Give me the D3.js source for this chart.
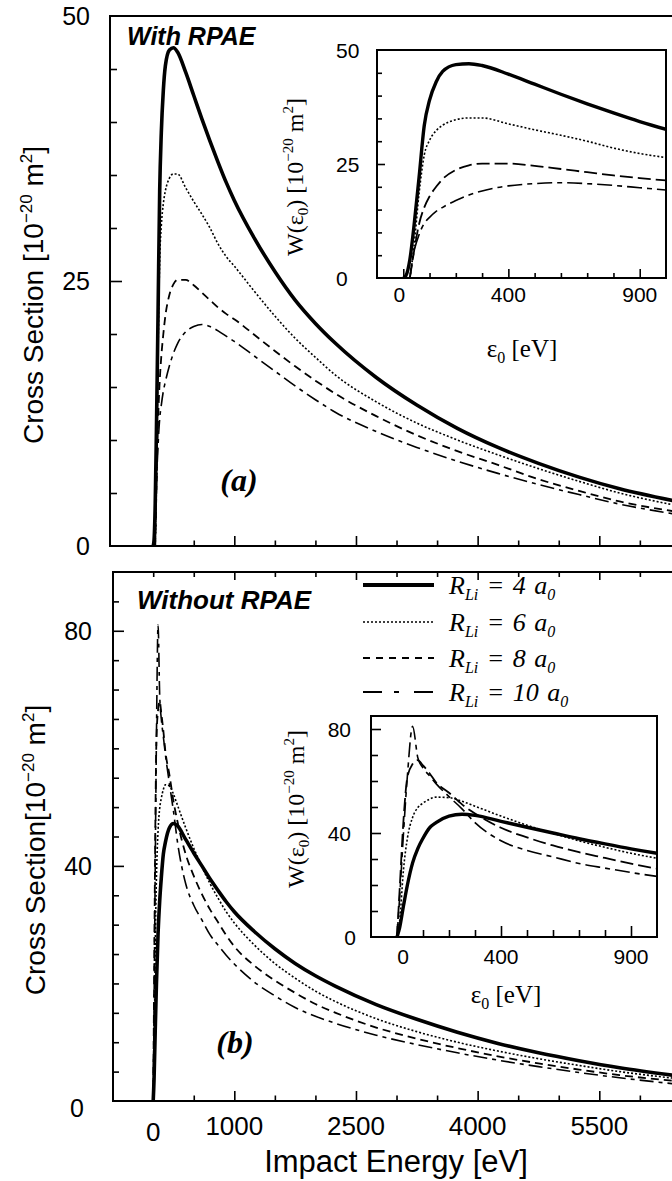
<!DOCTYPE html>
<html>
<head>
<meta charset="utf-8">
<script src="https://cdn.jsdelivr.net/npm/d3@7"></script>
<style>
  html, body { margin: 0; padding: 0; background: #fff; }
  svg { display: block; }
</style>
</head>
<body>
<svg id="chart" width="672" height="1181"></svg>
<script>
// Impact energy grid [eV] shared by every curve
const energyEV = [0, 10, 25, 40, 60, 80, 100, 125, 150, 200, 250, 300, 400, 500, 600, 700, 800, 900, 1000,
  1250, 1500, 1750, 2000, 2250, 2750, 3250, 3750, 4250, 4750, 5250, 5750, 6400];

// Cross sections [1e-20 m^2], with RPAE, for R_Li = 4, 6, 8, 10 a0
const withRPAE_R4  = [0, 0.5, 4, 11, 22, 33.5, 39, 43, 45.3, 46.8, 47, 46.6, 44.7, 42.5, 40.3, 38.2, 36.2, 34.3, 32.6,
  29.0, 25.9, 23.2, 21.0, 19.1, 15.9, 13.3, 11.1, 9.3, 7.8, 6.5, 5.4, 4.3];
const withRPAE_R6  = [0, 0, 0, 6.5, 18.5, 27, 30.2, 32.3, 33.5, 34.7, 35.1, 35.1, 33.8, 32.5, 31.3, 30.0, 28.5, 27.3, 26.4,
  24.0, 21.7, 19.6, 17.8, 16.1, 13.6, 11.6, 10.0, 8.6, 7.3, 6.1, 5.0, 3.9];
const withRPAE_R8  = [0, 0, 0, 5.5, 11.8, 15.5, 17.9, 20, 21.7, 23.7, 24.7, 25.1, 25.1, 24.6, 23.9, 23.2, 22.5, 21.9, 21.4,
  19.9, 18.4, 16.95, 15.6, 14.35, 12.25, 10.45, 8.95, 7.65, 6.3, 5.2, 4.2, 3.3];
const withRPAE_R10 = [0, 0, 0, 5.5, 9.5, 12, 13.3, 14.6, 15.5, 17, 18.2, 19.1, 20.2, 20.7, 20.9, 20.7, 20.3, 19.8, 19.3,
  17.9, 16.5, 15.1, 13.8, 12.6, 10.8, 9.3, 8.0, 6.85, 5.8, 4.85, 3.95, 3.05];

// Cross sections [1e-20 m^2], without RPAE
const noRPAE_R4  = [0, 3.5, 12, 20, 28.5, 34, 38, 42, 44, 46.5, 47.2, 46.8, 44.5, 42.2, 40, 37.8, 35.8, 33.9, 32.2,
  28.8, 25.9, 23.4, 21.3, 19.5, 16.4, 13.9, 11.7, 9.8, 8.2, 6.85, 5.65, 4.4];
const noRPAE_R6  = [0, 6, 26, 38, 46, 49.8, 51.5, 53, 53.8, 53.6, 52.2, 50.3, 46.5, 43, 39.9, 37, 34.5, 32.2, 30.3,
  26.5, 23.4, 20.9, 18.7, 16.9, 14.0, 11.8, 10.0, 8.5, 7.2, 6.05, 5.0, 3.9];
const noRPAE_R8  = [0, 18, 45, 61.5, 66.5, 68, 66, 63, 59.5, 55.5, 51, 47.5, 42, 38.3, 35.2, 32.6, 30.4, 28.2, 26.3,
  23, 20.5, 18.4, 16.5, 15.0, 12.5, 10.6, 9.0, 7.6, 6.4, 5.35, 4.4, 3.45];
const noRPAE_R10 = [0, 15, 40, 62, 81, 69, 65, 62, 59, 54, 49.3, 44, 37, 33.3, 30.8, 28.3, 26.5, 24.8, 23.3,
  20.2, 17.9, 15.9, 14.4, 13.2, 11.2, 9.6, 8.2, 6.95, 5.85, 4.85, 3.95, 2.95];

// Lithium radii (a0) for the legend
const radiiLi = [4, 6, 8, 10];

// Tick labels
const mainXLabels = [0, 1000, 2500, 4000, 5500];
const topYLabels = [0, 25, 50];
const bottomYLabels = [0, 40, 80];
const insetXLabels = [0, 400, 900];
const insetTopYLabels = [0, 25, 50];
const insetBottomYLabels = [0, 40, 80];

const SANS = "'Liberation Sans', Arial, Helvetica, sans-serif";
const SERIF = "'Liberation Serif', 'Times New Roman', Times, serif";

const svg = d3.select("#chart");
svg.append("rect").attr("width", 672).attr("height", 1181).attr("fill", "#fff");

// ---------- scales ----------
const x = d3.scaleLinear().domain([0, 5500]).range([153.2, 599.3]);
const yTop = d3.scaleLinear().domain([0, 50]).range([546, 16]);
const yBot = d3.scaleLinear().domain([0, 90]).range([1101, 572]);

const xInA = d3.scaleLinear().domain([-100, 1000]).range([377, 666]);
const yInA = d3.scaleLinear().domain([0, 50]).range([278, 50]);
const xInB = d3.scaleLinear().domain([-100, 1000]).range([371, 657]);
const yInB = d3.scaleLinear().domain([0, 85]).range([937, 716]);

// line styles per radius: solid, dotted, dashed, dash-dot
const mainStyles = [
  { w: 3.6, dash: null },
  { w: 1.6, dash: "2,2" },
  { w: 1.8, dash: "8,5" },
  { w: 1.6, dash: "14,5,4,5" }
];
const insetStyles = [
  { w: 3.4, dash: null },
  { w: 1.6, dash: "2,2" },
  { w: 1.8, dash: "13,5" },
  { w: 1.6, dash: "15,5,5,5" }
];
const legendStyles = [
  { w: 4, dash: null },
  { w: 1.6, dash: "2,2" },
  { w: 2, dash: "7,6" },
  { w: 2, dash: "19,12,5,15" }
];

const defs = svg.append("defs");
function clipRect(id, x0, y0, x1, y1) {
  defs.append("clipPath").attr("id", id).append("rect")
    .attr("x", x0).attr("y", y0).attr("width", x1 - x0).attr("height", y1 - y0);
}
clipRect("clipTop", 110, 16, 672, 546);
clipRect("clipBot", 113, 572, 672, 1101);
clipRect("clipInA", 377, 50, 666, 278);
clipRect("clipInB", 371, 716, 657, 937);

function seriesPoints(values) {
  // start each curve at its last leading zero
  const first = values.findIndex(v => v > 0);
  const start = Math.max(0, first - 1);
  return energyEV.map((e, i) => [e, values[i]]).slice(start);
}

function drawCurves(g, xs, ys, seriesList, styles, clipId) {
  const line = d3.line().x(d => xs(d[0])).y(d => ys(d[1])).curve(d3.curveMonotoneX);
  const cg = g.append("g").attr("clip-path", `url(#${clipId})`);
  seriesList.forEach((vals, i) => {
    cg.append("path")
      .attr("d", line(seriesPoints(vals)))
      .attr("fill", "none")
      .attr("stroke", "#000")
      .attr("stroke-width", styles[i].w)
      .attr("stroke-dasharray", styles[i].dash)
      .attr("stroke-linejoin", "round");
  });
}

function tickGroup(g, axisMaker, scale, values, len, transform) {
  g.append("g").attr("transform", transform)
    .call(axisMaker(scale).tickValues(values).tickSize(-len).tickSizeOuter(0).tickFormat(""))
    .call(s => s.select(".domain").remove())
    .call(s => s.selectAll("line").attr("stroke", "#000").attr("stroke-width", 1.6));
}

const withSeries = [withRPAE_R4, withRPAE_R6, withRPAE_R8, withRPAE_R10];
const noSeries = [noRPAE_R4, noRPAE_R6, noRPAE_R8, noRPAE_R10];

// ---------- main panels ----------
const mainMinor = d3.range(0, 6001, 500).filter(v => !mainXLabels.slice(1).includes(v));
const mainMajor = mainXLabels.slice(1);

// top panel (a)
const gA = svg.append("g");
drawCurves(gA, x, yTop, withSeries, mainStyles, "clipTop");
tickGroup(gA, d3.axisBottom, x, mainMinor, 5.5, `translate(0,${yTop(0)})`);
tickGroup(gA, d3.axisBottom, x, mainMajor, 10, `translate(0,${yTop(0)})`);
tickGroup(gA, d3.axisLeft, yTop, d3.range(5, 50, 5).filter(v => v !== 25), 7, "translate(110,0)");
tickGroup(gA, d3.axisLeft, yTop, [25], 12, "translate(110,0)");
gA.append("path").attr("d", `M672,${yTop(50)}H110V${yTop(0)}H672`)
  .attr("fill", "none").attr("stroke", "#000").attr("stroke-width", 2);

// bottom panel (b)
const gB = svg.append("g");
drawCurves(gB, x, yBot, noSeries, mainStyles, "clipBot");
tickGroup(gB, d3.axisBottom, x, mainMinor, 5.5, `translate(0,${yBot(0)})`);
tickGroup(gB, d3.axisBottom, x, mainMajor, 10, `translate(0,${yBot(0)})`);
tickGroup(gB, d3.axisTop, x, mainMinor, 5, `translate(0,${yBot(90)})`);
tickGroup(gB, d3.axisTop, x, mainMajor, 8, `translate(0,${yBot(90)})`);
tickGroup(gB, d3.axisLeft, yBot, d3.range(5, 90, 5).filter(v => v !== 40 && v !== 80), 6, "translate(113,0)");
tickGroup(gB, d3.axisLeft, yBot, [40, 80], 11, "translate(113,0)");
gB.append("path").attr("d", `M672,${yBot(90)}H113V${yBot(0)}H672`)
  .attr("fill", "none").attr("stroke", "#000").attr("stroke-width", 2);

// main tick labels
gA.selectAll("text.ytl").data(topYLabels).join("text")
  .attr("x", 90).attr("y", d => yTop(d)).attr("dy", "0.36em")
  .attr("text-anchor", "end").attr("font-family", SANS).attr("font-size", 25)
  .text(d => d);
gB.selectAll("text.ytl").data(bottomYLabels).join("text")
  .attr("x", d => d === 0 ? 84 : 92).attr("y", d => yBot(d) + (d === 0 ? 7 : 0)).attr("dy", "0.36em")
  .attr("text-anchor", "end").attr("font-family", SANS).attr("font-size", 25)
  .text(d => d);
gB.selectAll("text.xtl").data(mainXLabels).join("text")
  .attr("x", d => x(d)).attr("y", d => d === 0 ? 1141 : 1135)
  .attr("text-anchor", "middle").attr("font-family", SANS).attr("font-size", 26)
  .text(d => d);

svg.append("text").attr("x", 396).attr("y", 1172).attr("text-anchor", "middle")
  .attr("font-family", SANS).attr("font-size", 31).text("Impact Energy [eV]");

function yTitle(cx, cy, gap) {
  const t = svg.append("text")
    .attr("transform", `translate(${cx},${cy}) rotate(-90)`)
    .attr("text-anchor", "middle").attr("font-family", SANS).attr("font-size", 28);
  t.append("tspan").text(gap ? "Cross Section [10" : "Cross Section[10");
  t.append("tspan").attr("dy", -11).attr("font-size", 17).text("\u221220");
  t.append("tspan").attr("dy", 11).text(" m");
  t.append("tspan").attr("dy", -11).attr("font-size", 17).text("2");
  t.append("tspan").attr("dy", 11).text("]");
}
yTitle(43, 295, true);
yTitle(45, 850, false);

svg.append("text").attr("x", 127).attr("y", 45)
  .attr("font-family", SANS).attr("font-weight", "bold").attr("font-style", "italic")
  .attr("font-size", 25).text("With RPAE");
svg.append("text").attr("x", 137).attr("y", 609)
  .attr("font-family", SANS).attr("font-weight", "bold").attr("font-style", "italic")
  .attr("font-size", 26).text("Without RPAE");

svg.append("text").attr("x", 239).attr("y", 491).attr("text-anchor", "middle")
  .attr("font-family", SERIF).attr("font-weight", "bold").attr("font-style", "italic")
  .attr("font-size", 32).text("(a)");
svg.append("text").attr("x", 235).attr("y", 1053).attr("text-anchor", "middle")
  .attr("font-family", SERIF).attr("font-weight", "bold").attr("font-style", "italic")
  .attr("font-size", 32).text("(b)");

// ---------- legend ----------
const legendRowsY = [585, 622, 658, 692];
const lg = svg.append("g");
radiiLi.forEach((r, i) => {
  const yy = legendRowsY[i];
  lg.append("line").attr("x1", 363).attr("x2", 434).attr("y1", yy).attr("y2", yy)
    .attr("stroke", "#000").attr("stroke-width", legendStyles[i].w)
    .attr("stroke-dasharray", legendStyles[i].dash);
  const t = lg.append("text").attr("x", 449).attr("y", yy + 9)
    .attr("font-family", SERIF).attr("font-style", "italic").attr("font-size", 26)
    .attr("word-spacing", 2);
  t.append("tspan").text("R");
  t.append("tspan").attr("dy", 6).attr("font-size", 16).text("Li");
  t.append("tspan").attr("dy", -6).text(` = ${r} a`);
  t.append("tspan").attr("dy", 6).attr("font-size", 16).text("0");
});

// ---------- insets ----------
function drawInset(opts) {
  const { xs, ys, series, clipId, yMajor, yMinor, xMajorLen, xMinorLen, yMajorLen, yMinorLen,
          yLabels, yLabelX, yLabelAnchor, zeroLabelX, xLabelY, zeroXLabelShift, titleX, titleY,
          yTitleX, yTitleY } = opts;
  const [x0, x1] = xs.range();
  const [yb, yt] = ys.range();
  const g = svg.append("g");
  g.append("rect").attr("x", x0).attr("y", yt).attr("width", x1 - x0).attr("height", yb - yt)
    .attr("fill", "#fff");
  drawCurves(g, xs, ys, series, insetStyles, clipId);
  const xMinor = d3.range(100, 1000, 100).filter(v => !insetXLabels.includes(v));
  tickGroup(g, d3.axisBottom, xs, xMinor, xMinorLen, `translate(0,${yb})`);
  tickGroup(g, d3.axisBottom, xs, insetXLabels, xMajorLen, `translate(0,${yb})`);
  tickGroup(g, d3.axisLeft, ys, yMinor, yMinorLen, `translate(${x0},0)`);
  tickGroup(g, d3.axisLeft, ys, yMajor, yMajorLen, `translate(${x0},0)`);
  g.append("rect").attr("x", x0).attr("y", yt).attr("width", x1 - x0).attr("height", yb - yt)
    .attr("fill", "none").attr("stroke", "#000").attr("stroke-width", 2);

  g.selectAll("text.yl").data(yLabels).join("text")
    .attr("x", d => d === 0 ? zeroLabelX : yLabelX).attr("y", d => ys(d)).attr("dy", "0.36em")
    .attr("text-anchor", yLabelAnchor).attr("font-family", SANS).attr("font-size", 21)
    .text(d => d);
  g.selectAll("text.xl").data(insetXLabels).join("text")
    .attr("x", d => xs(d) + (d === 0 ? zeroXLabelShift : 0)).attr("y", xLabelY)
    .attr("text-anchor", "middle").attr("font-family", SANS).attr("font-size", 21)
    .text(d => d);

  const xt = g.append("text").attr("x", titleX).attr("y", titleY).attr("text-anchor", "middle")
    .attr("font-family", SERIF).attr("font-size", 25);
  xt.append("tspan").text("\u03b5");
  xt.append("tspan").attr("dy", 6).attr("font-size", 16).text("0");
  xt.append("tspan").attr("dy", -6).text(" [eV]");

  const yt2 = g.append("text").attr("transform", `translate(${yTitleX},${yTitleY}) rotate(-90)`)
    .attr("text-anchor", "middle").attr("font-family", SERIF).attr("font-size", 24);
  yt2.append("tspan").text("W(\u03b5");
  yt2.append("tspan").attr("dy", 5).attr("font-size", 15).text("0");
  yt2.append("tspan").attr("dy", -5).text(") [10");
  yt2.append("tspan").attr("dy", -10).attr("font-size", 15).text("\u221220");
  yt2.append("tspan").attr("dy", 10).text(" m");
  yt2.append("tspan").attr("dy", -10).attr("font-size", 15).text("2");
  yt2.append("tspan").attr("dy", 10).text("]");
}

drawInset({
  xs: xInA, ys: yInA, series: withSeries, clipId: "clipInA",
  yMajor: [25], yMinor: d3.range(5, 50, 5).filter(v => v !== 25),
  xMajorLen: 9, xMinorLen: 5, yMajorLen: 8, yMinorLen: 5,
  yLabels: insetTopYLabels, yLabelX: 336, yLabelAnchor: "start", zeroLabelX: 336,
  xLabelY: 302, zeroXLabelShift: -4, titleX: 522, titleY: 357, yTitleX: 303, yTitleY: 177
});
drawInset({
  xs: xInB, ys: yInB, series: noSeries, clipId: "clipInB",
  yMajor: [40, 80], yMinor: d3.range(10, 85, 10).filter(v => v !== 40 && v !== 80),
  xMajorLen: 11, xMinorLen: 7, yMajorLen: 10, yMinorLen: 7,
  yLabels: insetBottomYLabels, yLabelX: 351, yLabelAnchor: "end", zeroLabelX: 356,
  xLabelY: 964, zeroXLabelShift: 6, titleX: 506, titleY: 1003, yTitleX: 304, yTitleY: 809
});
</script>
</body>
</html>
